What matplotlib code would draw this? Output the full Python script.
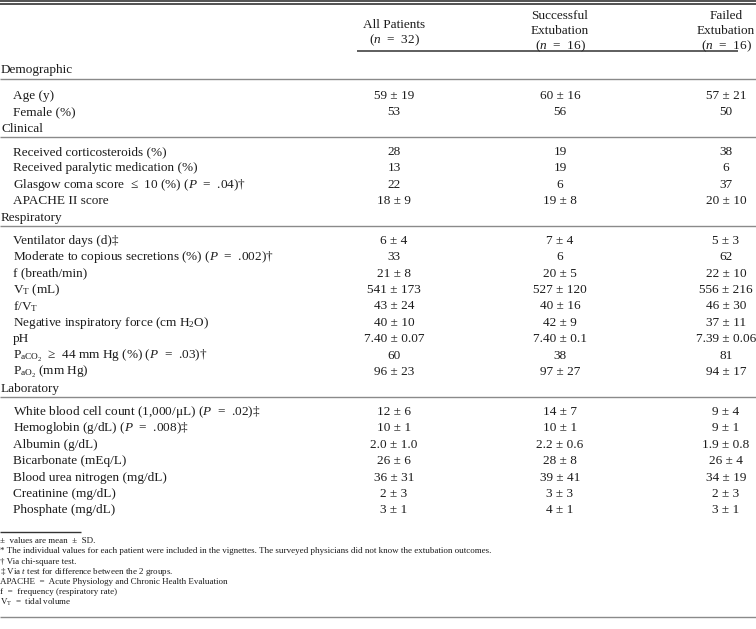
import matplotlib
matplotlib.use("Agg")
import matplotlib.pyplot as plt

plt.rcParams['font.family'] = ['Liberation Serif', 'DejaVu Serif']
plt.rcParams['mathtext.fontset'] = 'custom'
plt.rcParams['mathtext.rm'] = 'Liberation Serif'
plt.rcParams['mathtext.it'] = 'Liberation Serif:italic'
plt.rcParams['mathtext.bf'] = 'Liberation Serif:bold'

# column headers
col_heads = [
    ["All Patients", "($n$  =  32)"],
    ["Successful", "Extubation", "($n$  =  16)"],
    ["Failed", "Extubation", "($n$  =  16)"],
]

# table body, one list per section
sections = ["Demographic", "Clinical", "Respiratory", "Laboratory"]

demo_labels = ["Age (y)", "Female (%)"]
demo_all = ["59 ± 19", "53"]
demo_succ = ["60 ± 16", "56"]
demo_fail = ["57 ± 21", "50"]

clin_labels = ["Received corticosteroids (%)",
               "Received paralytic medication (%)",
               "Glasgow coma score  ≤  10 (%) ($P$  =  .04)†",
               "APACHE II score"]
clin_all = ["28", "13", "22", "18 ± 9"]
clin_succ = ["19", "19", "6", "19 ± 8"]
clin_fail = ["38", "6", "37", "20 ± 10"]

resp_labels = ["Ventilator days (d)‡",
               "Moderate to copious secretions (%) ($P$  =  .002)†",
               "f (breath/min)",
               "V$_{\\mathrm{T}}$ (mL)",
               "f/V$_{\\mathrm{T}}$",
               "Negative inspiratory force (cm H$_{2}$O)",
               "pH",
               "P$_{\\mathrm{aCO}_{2}}$  ≥  44 mm Hg (%) ($P$  =  .03)†",
               "P$_{\\mathrm{aO}_{2}}$ (mm Hg)"]
resp_all = ["6 ± 4", "33", "21 ± 8", "541 ± 173", "43 ± 24", "40 ± 10",
            "7.40 ± 0.07", "60", "96 ± 23"]
resp_succ = ["7 ± 4", "6", "20 ± 5", "527 ± 120", "40 ± 16", "42 ± 9",
             "7.40 ± 0.1", "38", "97 ± 27"]
resp_fail = ["5 ± 3", "62", "22 ± 10", "556 ± 216", "46 ± 30", "37 ± 11",
             "7.39 ± 0.06", "81", "94 ± 17"]

lab_labels = ["White blood cell count (1,000/μL) ($P$  =  .02)‡",
              "Hemoglobin (g/dL) ($P$  =  .008)‡",
              "Albumin (g/dL)",
              "Bicarbonate (mEq/L)",
              "Blood urea nitrogen (mg/dL)",
              "Creatinine (mg/dL)",
              "Phosphate (mg/dL)"]
lab_all = ["12 ± 6", "10 ± 1", "2.0 ± 1.0", "26 ± 6", "36 ± 31", "2 ± 3", "3 ± 1"]
lab_succ = ["14 ± 7", "10 ± 1", "2.2 ± 0.6", "28 ± 8", "39 ± 41", "3 ± 3", "4 ± 1"]
lab_fail = ["9 ± 4", "9 ± 1", "1.9 ± 0.8", "26 ± 4", "34 ± 19", "2 ± 3", "3 ± 1"]

footnotes = [
    "±  values are mean  ±  SD.",
    "* The individual values for each patient were included in the vignettes. "
    "The surveyed physicians did not know the extubation outcomes.",
    "† Via chi-square test.",
    "‡ Via $t$ test for difference between the 2 groups.",
    "APACHE  =  Acute Physiology and Chronic Health Evaluation",
    "f  =  frequency (respiratory rate)",
    "V$_{\\mathrm{T}}$  =  tidal volume",
]

body = [
    (demo_labels, demo_all, demo_succ, demo_fail),
    (clin_labels, clin_all, clin_succ, clin_fail),
    (resp_labels, resp_all, resp_succ, resp_fail),
    (lab_labels, lab_all, lab_succ, lab_fail),
]

W, H = 756, 629
fig = plt.figure(figsize=(W / 100, H / 100), dpi=100)
ax = fig.add_axes([0, 0, 1, 1])
ax.set_xlim(0, W)
ax.set_ylim(H, 0)
ax.axis('off')

ink = '#1c1c1c'
grey = '#8a8a8a'
fs = 9.5
col_x = [394, 560, 726]

# top double rule
ax.hlines([1.0, 3.8], 0, W, colors='#333333', lw=1.2)

# header
head_top = [25, 16, 16]
for cx, lines, y0 in zip(col_x, col_heads, head_top):
    for i, t in enumerate(lines):
        ax.text(cx, y0 + i * 15, t, ha='center', va='center', fontsize=fs, color=ink)
ax.hlines(51, 357, 738, colors='#333333', lw=1.1)

pitch = 16.45
y = 70
for si, (name, (labels, a, s, f)) in enumerate(zip(sections, body)):
    ax.text(1, y, name, ha='left', va='center', fontsize=fs, color=ink)
    ax.hlines(y + 8.5, 0, W, colors=grey, lw=1.0)
    y += 26 if si == 0 else 23
    for lab, va_, vs, vf in zip(labels, a, s, f):
        ax.text(13, y, lab, ha='left', va='center', fontsize=fs, color=ink)
        for cx, v in zip(col_x, (va_, vs, vf)):
            ax.text(cx, y, v, ha='center', va='center', fontsize=fs, color=ink)
        y += pitch

# footnotes
ax.hlines(532, 0, 81, colors='#333333', lw=1.0)
for i, t in enumerate(footnotes):
    ax.text(0, 543 + i * 10.3, t, ha='left', va='baseline', fontsize=6.5, color=ink)
ax.hlines(617, 0, W, colors=grey, lw=1.0)

fig.savefig('out.png', dpi=100)
